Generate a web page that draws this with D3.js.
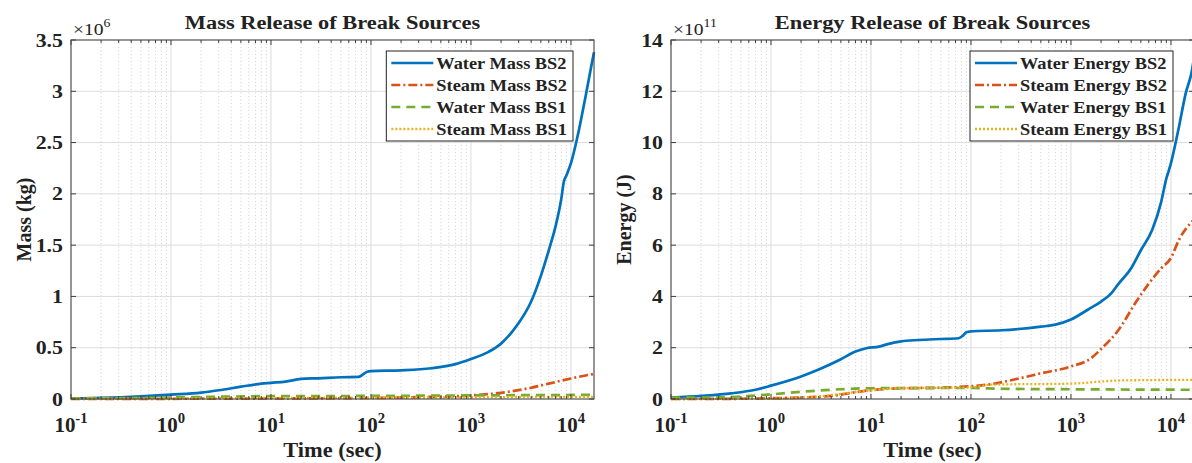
<!DOCTYPE html>
<html><head><meta charset="utf-8">
<script src="https://cdn.jsdelivr.net/npm/d3@7"></script>
<style>body{margin:0;background:#fff}svg{display:block}</style>
</head><body>
<svg id="c" width="1192" height="463"></svg>
<script>
// ---- data (time in s, values in units of the axis multiplier) ----
const xTickValues = [0.1, 1, 10, 100, 1000, 10000];
const xTickExponents = ["-1", "0", "1", "2", "3", "4"];
const massTicks = [0, 0.5, 1, 1.5, 2, 2.5, 3, 3.5];
const massTickLabels = ["0", "0.5", "1", "1.5", "2", "2.5", "3", "3.5"];
const energyTicks = [0, 2, 4, 6, 8, 10, 12, 14];
const energyTickLabels = ["0", "2", "4", "6", "8", "10", "12", "14"];
const seriesNamesMass = ["Water Mass BS2", "Steam Mass BS2", "Water Mass BS1", "Steam Mass BS1"];
const seriesNamesEnergy = ["Water Energy BS2", "Steam Energy BS2", "Water Energy BS1", "Steam Energy BS1"];

const waterMassBS2 = [[0.1,0.005],[0.2,0.01],[0.5,0.025],[1,0.042],[2,0.062],[3,0.085],[5,0.12],[8,0.15],[10,0.158],[14,0.17],[20,0.196],[30,0.202],[50,0.212],[75,0.215],[82,0.235],[90,0.262],[100,0.272],[200,0.28],[400,0.3],[700,0.34],[1000,0.39],[1500,0.46],[2000,0.54],[2600,0.66],[3000,0.74],[4000,0.95],[5000,1.2],[6000,1.45],[7000,1.68],[8000,1.95],[8500,2.12],[9000,2.18],[10000,2.3],[12000,2.62],[14000,2.95],[16000,3.25],[17000,3.38]];
const steamMassBS2 = [[0.1,0.001],[1,0.002],[10,0.005],[100,0.01],[300,0.018],[1000,0.035],[2000,0.06],[4000,0.11],[6000,0.15],[10000,0.2],[17000,0.245]];
const waterMassBS1 = [[0.1,0.005],[0.5,0.01],[1,0.015],[3,0.022],[10,0.028],[100,0.03],[1000,0.035],[17000,0.04]];
const steamMassBS1 = [[0.1,0.002],[1,0.004],[10,0.01],[100,0.012],[1000,0.017],[4000,0.02],[17000,0.02]];

const waterEnergyBS2 = [[0.1,0.05],[0.2,0.12],[0.4,0.22],[0.7,0.36],[1,0.52],[2,0.88],[3,1.15],[5,1.55],[7,1.85],[9,1.98],[12,2.04],[15,2.15],[20,2.25],[30,2.3],[50,2.34],[75,2.37],[82,2.45],[90,2.6],[100,2.64],[200,2.68],[500,2.82],[700,2.9],[1000,3.1],[1500,3.5],[2000,3.8],[2500,4.1],[3000,4.5],[4000,5.1],[5000,5.8],[6500,6.6],[8000,7.7],[9000,8.6],[9500,8.9],[10000,9.2],[12000,10.6],[14000,11.9],[16200,12.8],[17000,13.3]];
const steamEnergyBS2 = [[0.1,0],[0.5,0.01],[1,0.03],[2,0.06],[4,0.12],[8,0.3],[15,0.4],[20,0.42],[50,0.44],[100,0.5],[160,0.58],[300,0.8],[500,1.0],[1000,1.27],[1600,1.6],[2000,1.95],[3000,2.7],[4500,3.8],[6000,4.5],[8000,5.1],[10000,5.5],[12000,6.2],[17000,7.0]];
const waterEnergyBS1 = [[0.1,0.05],[0.3,0.06],[0.5,0.1],[1,0.18],[2,0.28],[3,0.33],[5,0.38],[10,0.42],[100,0.43],[200,0.4],[1000,0.38],[17000,0.36]];
const steamEnergyBS1 = [[0.1,0],[0.5,0.005],[1,0.01],[2,0.05],[4,0.15],[8,0.3],[20,0.42],[100,0.45],[160,0.56],[1000,0.6],[3000,0.72],[17000,0.75]];

// ---- styling ----
const colors = ["#0072BD", "#D95319", "#77AC30", "#EDB120"];
const dashes = [null, "9,3,2,3", "9,6", "2,2"];
const widths = [2.7, 2.7, 2.7, 2.3];
const FONT = "'Liberation Serif','Times New Roman',serif";

const svg = d3.select("#c");

function stext(g, x, y, str, size, anchor, weight, sx) {
  return g.append("text")
    .attr("transform", `translate(${x},${y}) scale(${sx},1)`)
    .attr("text-anchor", anchor || "start")
    .attr("font-family", FONT)
    .attr("font-weight", weight || "bold")
    .attr("font-size", size)
    .attr("fill", "#222")
    .text(str);
}

function panel(opts) {
  const L = opts.left, R = opts.right, T = 40, B = 399;
  const g = svg.append("g");
  const x = d3.scaleLog().domain([0.1, 17000]).range([L, R]);
  const y = d3.scaleLinear().domain([0, opts.ymax]).range([B, T]);

  // minor grid
  const minor = [];
  for (let e = -1; e <= 4; e++) for (let k = 2; k <= 9; k++) { const v = k * Math.pow(10, e); if (v < 17000) minor.push(v); }
  g.selectAll(".mg").data(minor).enter().append("line")
    .attr("x1", d => x(d)).attr("x2", d => x(d)).attr("y1", T).attr("y2", B)
    .attr("stroke", "#c4c4c4").attr("stroke-width", 0.8).attr("stroke-dasharray", "1,2.5");
  // major grid
  g.selectAll(".gx").data(xTickValues.slice(1)).enter().append("line")
    .attr("x1", d => x(d)).attr("x2", d => x(d)).attr("y1", T).attr("y2", B)
    .attr("stroke", "#dcdcdc").attr("stroke-width", 1);
  g.selectAll(".gy").data(opts.yticks.slice(1, -1)).enter().append("line")
    .attr("x1", L).attr("x2", R).attr("y1", d => y(d)).attr("y2", d => y(d))
    .attr("stroke", "#dcdcdc").attr("stroke-width", 1);

  // lines
  const line = d3.line().x(d => x(d[0])).y(d => y(d[1])).curve(d3.curveMonotoneX);
  opts.series.forEach((s, i) => {
    g.append("path").datum(s).attr("d", line).attr("fill", "none")
      .attr("stroke", colors[i]).attr("stroke-width", widths[i])
      .attr("stroke-dasharray", dashes[i]).attr("stroke-linejoin", "round");
  });

  // box + ticks
  g.append("rect").attr("x", L).attr("y", T).attr("width", R - L).attr("height", B - T)
    .attr("fill", "none").attr("stroke", "#404040").attr("stroke-width", 1.1);
  opts.yticks.forEach(v => {
    g.append("line").attr("x1", L).attr("x2", L + 5).attr("y1", y(v)).attr("y2", y(v)).attr("stroke", "#404040");
    g.append("line").attr("x1", R).attr("x2", R - 5).attr("y1", y(v)).attr("y2", y(v)).attr("stroke", "#404040");
  });
  xTickValues.forEach(v => {
    g.append("line").attr("x1", x(v)).attr("x2", x(v)).attr("y1", B).attr("y2", B - 5).attr("stroke", "#404040");
    g.append("line").attr("x1", x(v)).attr("x2", x(v)).attr("y1", T).attr("y2", T + 5).attr("stroke", "#404040");
  });
  minor.forEach(v => {
    g.append("line").attr("x1", x(v)).attr("x2", x(v)).attr("y1", B).attr("y2", B - 3).attr("stroke", "#404040");
    g.append("line").attr("x1", x(v)).attr("x2", x(v)).attr("y1", T).attr("y2", T + 3).attr("stroke", "#404040");
  });

  // y tick labels
  opts.yticks.forEach((v, i) => stext(g, L - 8, y(v) + 6.5, opts.ytickLabels[i], 19, "end", "bold", 1.15));
  // x tick labels
  xTickValues.forEach((v, i) => {
    const t = stext(g, x(v), 432, "", 20, "middle", "bold", 1.05);
    t.append("tspan").text("10");
    t.append("tspan").attr("dy", -9).attr("font-size", 14).text(xTickExponents[i]);
  });
  // multiplier
  const m = stext(g, L + 2, 35, "", 17, "start", "normal", 1.15);
  m.append("tspan").text("×10");
  m.append("tspan").attr("dy", -8).attr("font-size", 12).text(opts.exp);

  // title, labels
  stext(g, (L + R) / 2, 29, opts.title, 19, "middle", "bold", 1.18);
  stext(g, (L + R) / 2, 457, "Time (sec)", 20, "middle", "bold", 1.12);
  g.append("text").attr("transform", `translate(${L - 40},${(T + B) / 2}) rotate(-90)`)
    .attr("text-anchor", "middle").attr("font-family", FONT).attr("font-weight", "bold")
    .attr("font-size", 20).attr("fill", "#222").text(opts.ylabel);

  // legend
  const boxR = R - 21, boxT = 51, rowH = 22;
  const lg = g.append("g");
  const rect = lg.append("rect").attr("y", boxT).attr("height", 90)
    .attr("fill", "#fff").attr("stroke", "#222").attr("stroke-width", 1);
  const textR = boxR - 6;
  const texts = opts.names.map((n, i) => stext(lg, textR, boxT + 18 + i * rowH, n, 17, "end", "bold", 1.08));
  const wMax = d3.max(texts, t => t.node().getBBox().width) * 1.08;
  const textL = textR - wMax;
  texts.forEach(t => { t.attr("transform", t.attr("transform").replace(/translate\(([^,]+),/, `translate(${textL},`)).attr("text-anchor", "start"); });
  opts.names.forEach((n, i) => {
    lg.append("line").attr("x1", textL - 45).attr("x2", textL - 3)
      .attr("y1", boxT + 12 + i * rowH).attr("y2", boxT + 12 + i * rowH)
      .attr("stroke", colors[i]).attr("stroke-width", widths[i]).attr("stroke-dasharray", dashes[i]);
  });
  rect.attr("x", textL - 50).attr("width", boxR - (textL - 50));
}

panel({ left: 71, right: 594, ymax: 3.5, yticks: massTicks, ytickLabels: massTickLabels, exp: "6",
  title: "Mass Release of Break Sources", ylabel: "Mass (kg)", names: seriesNamesMass,
  series: [waterMassBS2, steamMassBS2, waterMassBS1, steamMassBS1] });
panel({ left: 671, right: 1194, ymax: 14, yticks: energyTicks, ytickLabels: energyTickLabels, exp: "11",
  title: "Energy Release of Break Sources", ylabel: "Energy (J)", names: seriesNamesEnergy,
  series: [waterEnergyBS2, steamEnergyBS2, waterEnergyBS1, steamEnergyBS1] });
</script>
</body></html>
